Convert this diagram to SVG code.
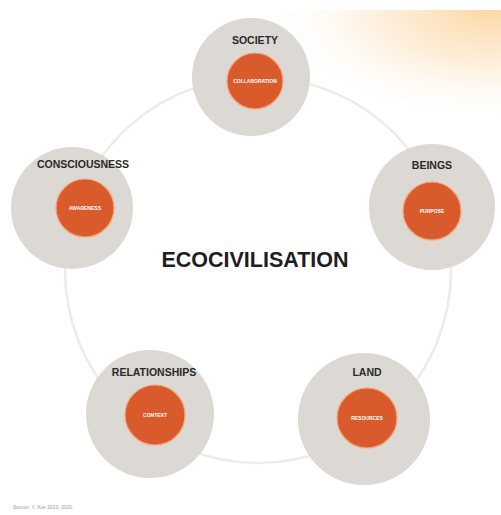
<svg xmlns="http://www.w3.org/2000/svg" width="501" height="515" viewBox="0 0 501 515">
<defs>
<radialGradient id="glow" cx="490" cy="10" r="230" gradientUnits="userSpaceOnUse" gradientTransform="translate(490 10) scale(1 0.5) translate(-490 -10)">
<stop offset="0" stop-color="#fbd6a2" stop-opacity="0.95"/>
<stop offset="0.45" stop-color="#fde4c3" stop-opacity="0.65"/>
<stop offset="1" stop-color="#ffffff" stop-opacity="0"/>
</radialGradient>
<style>
.outer{fill:#dcd8d4}
.inner{fill:#d95a2b;stroke:#f3a77c;stroke-width:1.2}
.lbl{font-family:"Liberation Sans",Arial,sans-serif;font-weight:bold;font-size:10.5px;fill:#2a2a2a;text-anchor:middle}
.sub{font-family:"Liberation Sans",Arial,sans-serif;font-weight:bold;font-size:5px;fill:#ffffff;text-anchor:middle}
</style>
</defs>
<rect width="501" height="515" fill="#ffffff"/>
<rect x="280" y="10" width="221" height="125" fill="url(#glow)"/>
<g id="connectors">
<circle cx="258" cy="270" r="193" fill="none" stroke="#eeebe8" stroke-width="2.5"/>
</g>
<text x="255" y="267" font-family="Liberation Sans,Arial,sans-serif" font-weight="bold" font-size="21.5" fill="#1e1e1e" text-anchor="middle">ECOCIVILISATION</text>
<g id="society">
<circle class="outer" cx="251" cy="77" r="59"/>
<circle class="inner" cx="255" cy="81" r="28"/>
<text class="lbl" x="255" y="44">SOCIETY</text>
<text class="sub" x="255" y="83">COLLABORATION</text>
</g>
<g id="consciousness">
<circle class="outer" cx="72" cy="208" r="61"/>
<circle class="inner" cx="85" cy="208" r="29"/>
<text class="lbl" x="83" y="168">CONSCIOUSNESS</text>
<text class="sub" x="85" y="210">AWARENESS</text>
</g>
<g id="beings">
<circle class="outer" cx="432" cy="207" r="63"/>
<circle class="inner" cx="432" cy="211" r="29"/>
<text class="lbl" x="432" y="169">BEINGS</text>
<text class="sub" x="432" y="213">PURPOSE</text>
</g>
<g id="relationships">
<circle class="outer" cx="150" cy="414" r="64"/>
<circle class="inner" cx="155" cy="415" r="30"/>
<text class="lbl" x="154" y="376">RELATIONSHIPS</text>
<text class="sub" x="155" y="417">CONTEXT</text>
</g>
<g id="land">
<circle class="outer" cx="364" cy="419" r="66"/>
<circle class="inner" cx="367" cy="418" r="30"/>
<text class="lbl" x="367" y="376">LAND</text>
<text class="sub" x="367" y="420">RESOURCES</text>
</g>
<text x="13" y="509" font-family="Liberation Sans,Arial,sans-serif" font-size="5" fill="#9a9a9a">Source: Y. Xue 2010, 2020</text>
</svg>
